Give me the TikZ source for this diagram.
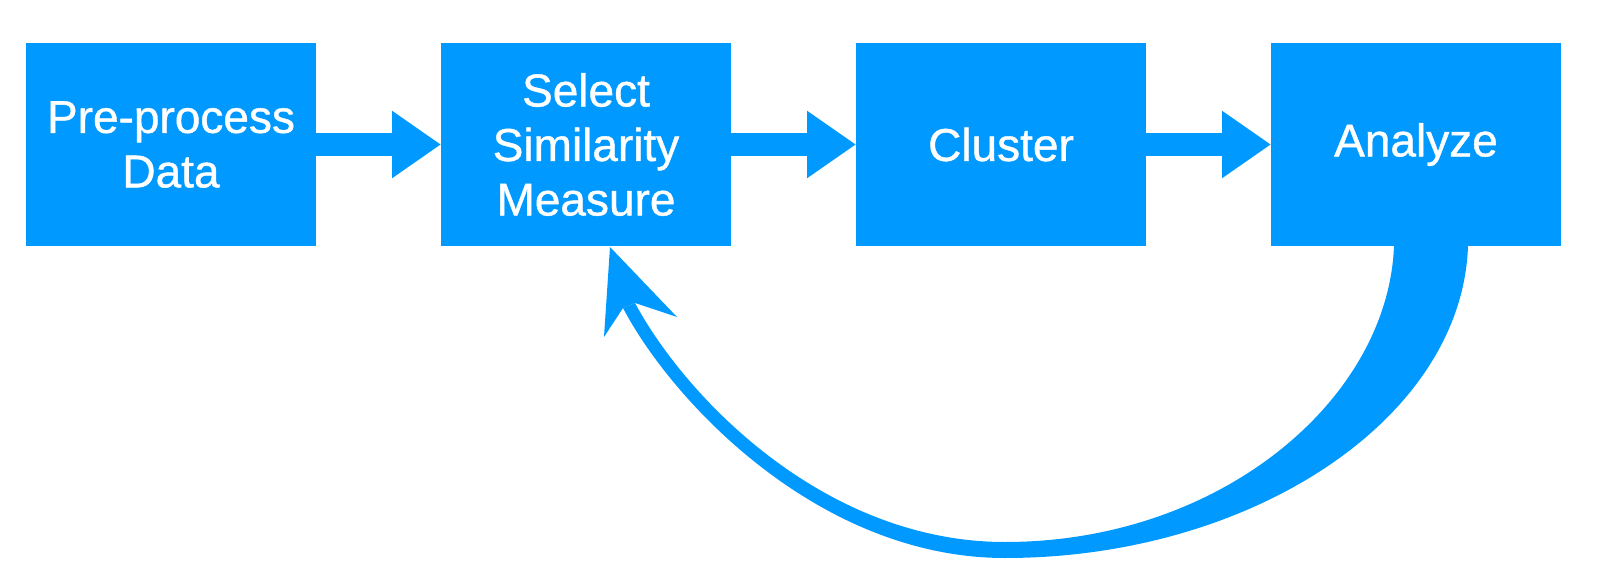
\documentclass[tikz,border=0pt]{standalone}
\usepackage{fontspec}
\setmainfont{Liberation Sans}
\usepackage{xcolor}
\usepackage{tikz}
\usetikzlibrary{arrows.meta, positioning, calc}

\definecolor{flowblue}{HTML}{0099FF}

\begin{document}
\begin{tikzpicture}[x=1pt, y=-1pt,
    box/.style={rectangle, fill=flowblue, text=white, minimum width=290pt, minimum height=203pt,
      inner sep=0pt, outer sep=0pt, align=center,
      font=\fontsize{46}{54.5}\selectfont\addfontfeatures{FakeBold=0.9}},
    flow/.style={-{Triangle[length=49pt, width=64pt]}, line width=23pt, flowblue}
  ]
  \useasboundingbox (0,0) rectangle (1600,569);

  % --- PIPELINE BOXES ---
  \node[box] (pre) at (171,144.5) {Pre-process\\Data};
  \node[box, right=125pt of pre] (sel) {Select\\Similarity\\Measure};
  \node[box, right=125pt of sel] (clu) {Cluster};
  \node[box, right=125pt of clu] (ana) {Analyze};

  \draw[flow] (pre) -- (sel);
  \draw[flow] (sel) -- (clu);
  \draw[flow] (clu) -- (ana);

  % --- FEEDBACK LOOP (tapered) ---
  \fill[flowblue] (1468,246) .. controls (1462,420) and (1250,558) .. (1005,558)
    .. controls (820,558) and (673,403) .. (623,308)
    -- (635,303)
    .. controls (686,398) and (825,542) .. (1005,542)
    .. controls (1220,542) and (1388,400) .. (1394,246) -- cycle;
  \fill[flowblue] (610,247) -- (677,317) -- (635,303) -- (623,308) -- (604,337) -- cycle;
\end{tikzpicture}
\end{document}
